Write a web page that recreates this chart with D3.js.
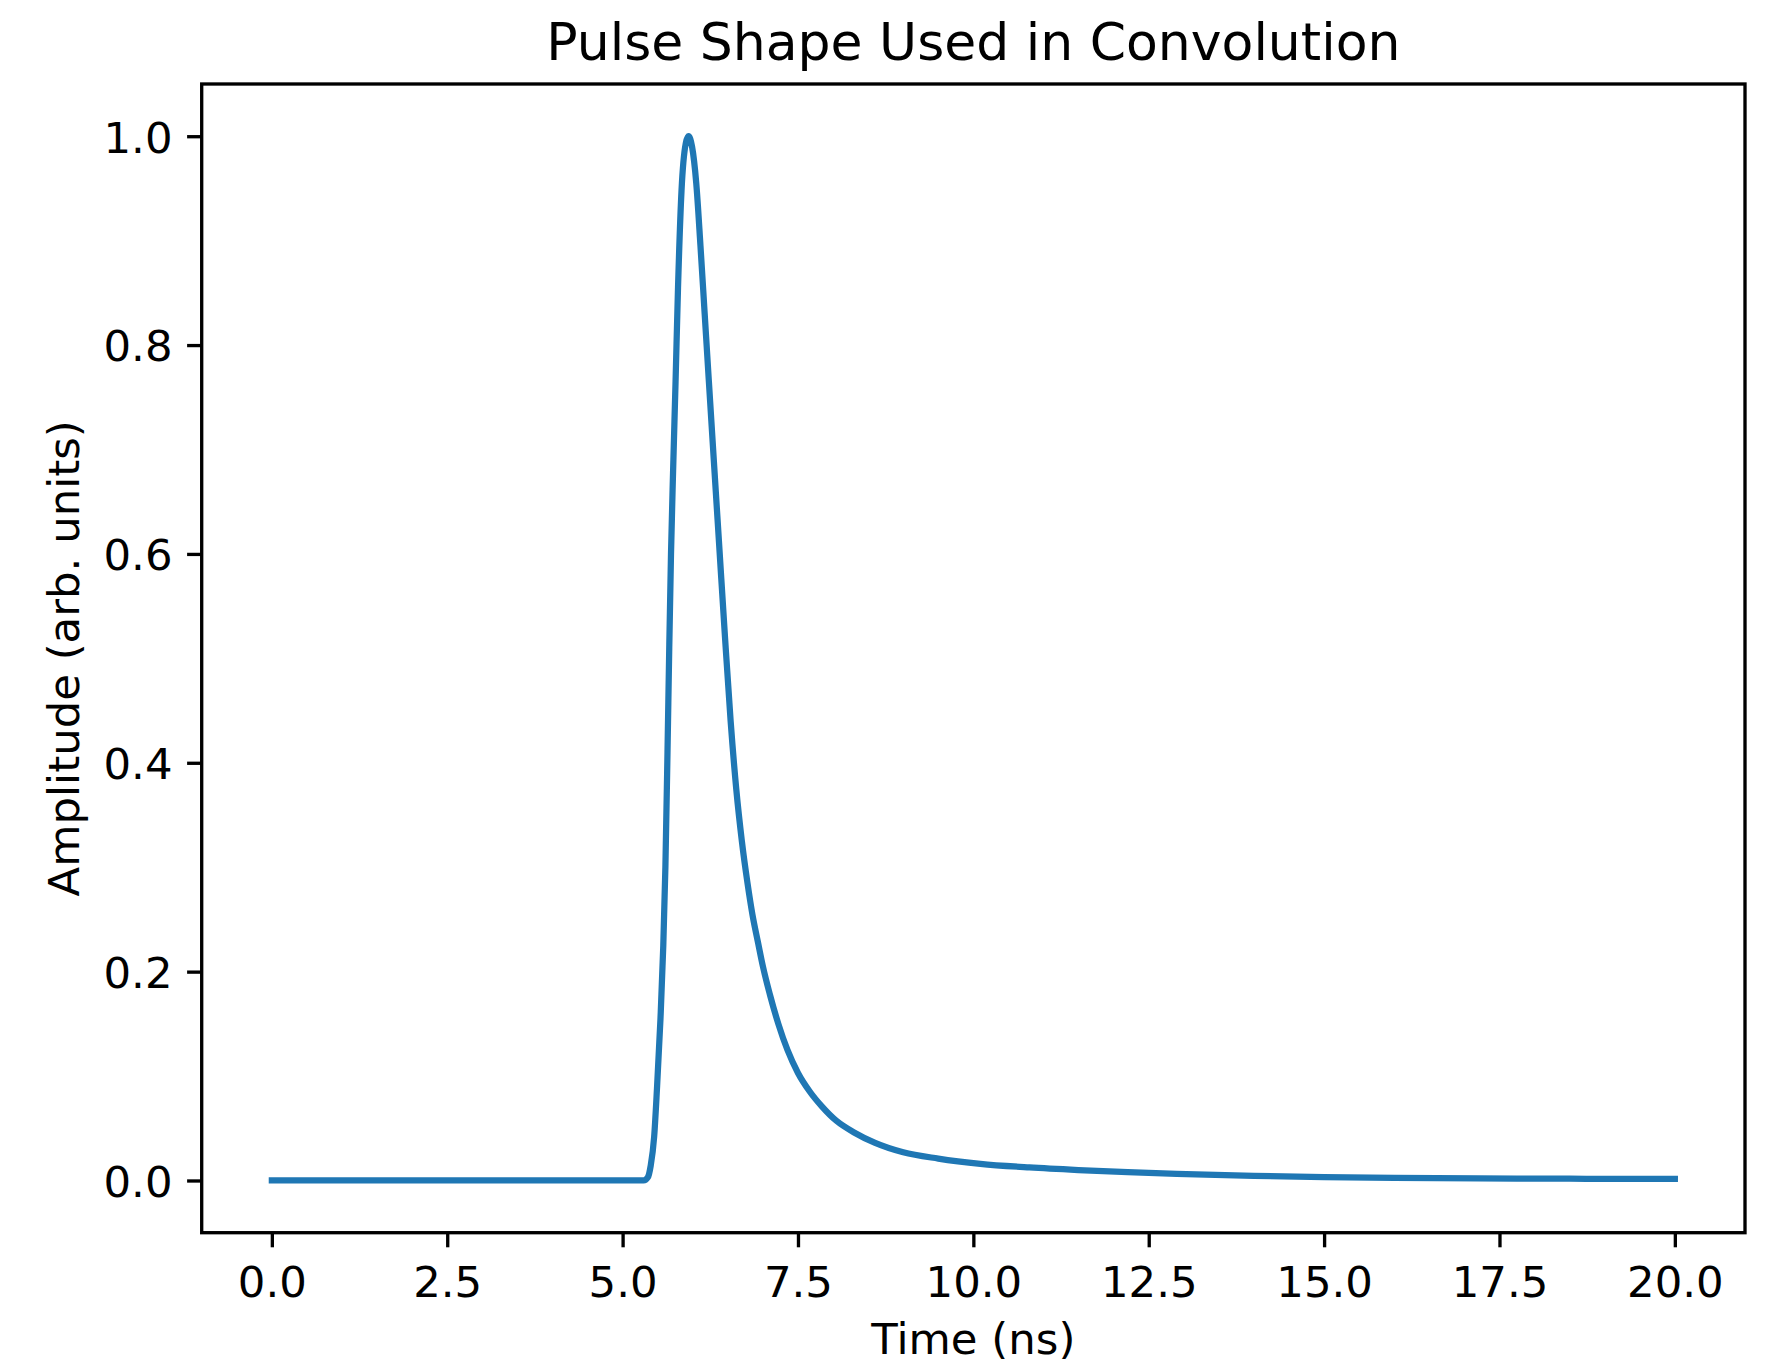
<!DOCTYPE html>
<html>
<head>
<meta charset="utf-8">
<script src="https://cdn.jsdelivr.net/npm/d3@7"></script>
<style>
  html, body { margin: 0; padding: 0; background: #fff; }
  svg { display: block; }
  text { font-family: "DejaVu Sans", sans-serif; fill: #000; }
</style>
</head>
<body>
<svg id="chart" width="1767" height="1366"></svg>
<script>
// ---- data ----
const timeNs = [0, 5.30, 5.36, 5.40, 5.45, 5.49, 5.54, 5.58, 5.61, 5.64, 5.665, 5.69, 5.72, 5.755, 5.79, 5.84, 5.90, 5.94,
  5.99, 6.05, 6.11, 6.17, 6.23, 6.30, 6.38, 6.46, 6.54, 6.62, 6.70, 6.78, 6.85, 6.93, 7.0, 7.1, 7.22, 7.35, 7.5, 7.67, 7.84,
  8.05, 8.3, 8.6, 9.0, 9.5, 10.1, 10.8, 11.5, 12.2, 12.9, 14.0, 15.0, 16.0, 17.2, 18.5, 20.0];
const amplitude = [0, 0, 0.003, 0.014, 0.042, 0.088, 0.155, 0.225, 0.30, 0.41, 0.51, 0.60, 0.68, 0.765, 0.855, 0.948, 0.993, 1.0,
  0.99, 0.955, 0.895, 0.83, 0.765, 0.69, 0.605, 0.52, 0.44, 0.375, 0.325, 0.285, 0.255, 0.228, 0.205, 0.178, 0.150, 0.125, 0.103, 0.085, 0.071,
  0.057, 0.046, 0.036, 0.027, 0.021, 0.016, 0.0125, 0.0100, 0.0080, 0.0064, 0.0045, 0.0033, 0.0026, 0.0020, 0.0017, 0.0015];
const xTicks = [0, 2.5, 5, 7.5, 10, 12.5, 15, 17.5, 20];
const yTicks = [0, 0.2, 0.4, 0.6, 0.8, 1.0];
const titleText = "Pulse Shape Used in Convolution";
const xLabelText = "Time (ns)";
const yLabelText = "Amplitude (arb. units)";

// ---- layout ----
const padL = 201.7, padR = 1745, padT = 84, padB = 1232.7;
const fs = 43.4, titleFs = 52;
const tickLen = 14.6, tickPad = 14.6, spineW = 3.33;

const svg = d3.select("#chart");
const x = d3.scaleLinear().domain([-1, 21]).range([padL, padR]);
const y = d3.scaleLinear().domain([-0.05, 1.05]).range([padB, padT]);

const data = timeNs.map((t, i) => ({ t, v: amplitude[i] }));

// line
svg.append("path")
  .datum(data)
  .attr("d", d3.line().x(d => x(d.t)).y(d => y(d.v)).curve(d3.curveMonotoneX))
  .attr("fill", "none")
  .attr("stroke", "#1f77b4")
  .attr("stroke-width", 6.25)
  .attr("stroke-linejoin", "round")
  .attr("stroke-linecap", "square");

// x axis
const gx = svg.append("g").attr("transform", `translate(0,${padB})`)
  .call(d3.axisBottom(x).tickValues(xTicks).tickFormat(d3.format(".1f"))
    .tickSize(tickLen).tickPadding(tickPad).tickSizeOuter(0));
gx.select(".domain").remove();
gx.selectAll(".tick line").attr("stroke", "#000").attr("stroke-width", spineW);
gx.selectAll(".tick text").attr("dy", null).attr("y", 64.3)
  .style("font-size", fs + "px").style("font-family", "DejaVu Sans, sans-serif").attr("fill", "#000");

// y axis
const gy = svg.append("g").attr("transform", `translate(${padL},0)`)
  .call(d3.axisLeft(y).tickValues(yTicks).tickFormat(d3.format(".1f"))
    .tickSize(tickLen).tickPadding(tickPad).tickSizeOuter(0));
gy.select(".domain").remove();
gy.selectAll(".tick line").attr("stroke", "#000").attr("stroke-width", spineW);
gy.selectAll(".tick text").attr("dy", "0.365em")
  .style("font-size", fs + "px").style("font-family", "DejaVu Sans, sans-serif").attr("fill", "#000");

// frame (spines)
svg.append("rect")
  .attr("x", padL).attr("y", padT)
  .attr("width", padR - padL).attr("height", padB - padT)
  .attr("fill", "none").attr("stroke", "#000").attr("stroke-width", spineW);

// title
svg.append("text")
  .attr("x", (padL + padR) / 2).attr("y", 60)
  .attr("text-anchor", "middle")
  .style("font-size", titleFs + "px")
  .text(titleText);

// x label
svg.append("text")
  .attr("x", (padL + padR) / 2).attr("y", 1354)
  .attr("text-anchor", "middle")
  .style("font-size", fs + "px")
  .text(xLabelText);

// y label
svg.append("text")
  .attr("transform", `translate(79,${(padT + padB) / 2}) rotate(-90)`)
  .attr("text-anchor", "middle")
  .style("font-size", fs + "px")
  .text(yLabelText);
</script>
</body>
</html>
